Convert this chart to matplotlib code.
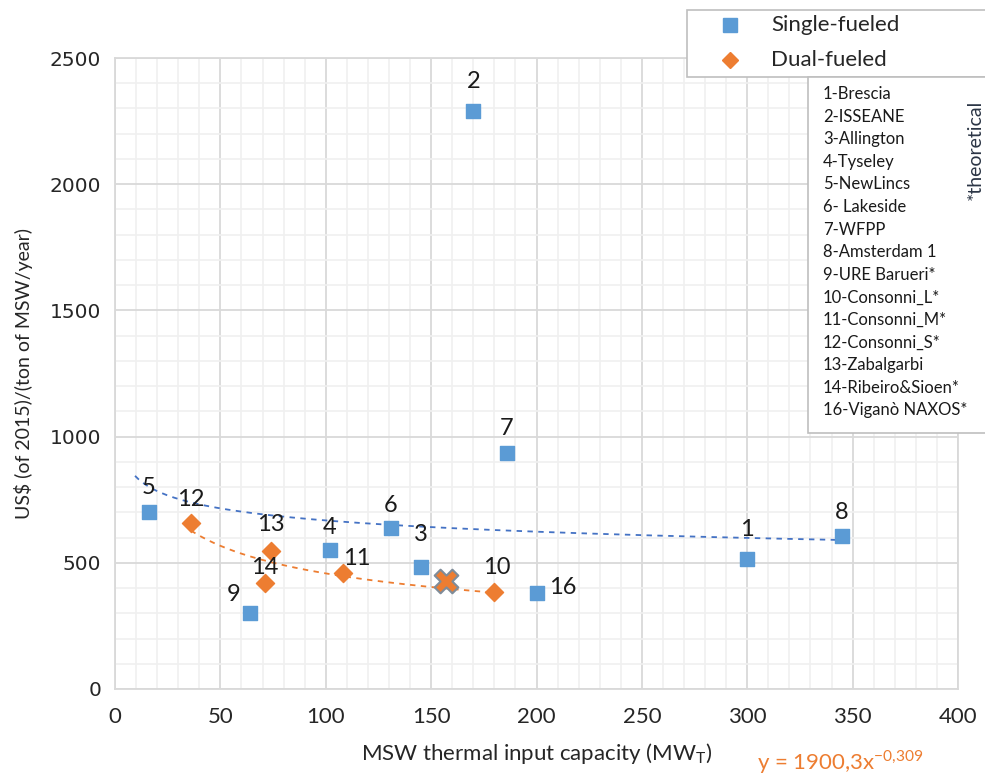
import numpy as np
import matplotlib.pyplot as plt
from matplotlib.patches import Rectangle
from matplotlib.lines import Line2D

BLUE = "#5B9BD5"
ORANGE = "#ED7D31"

# single-fueled plants
single_ids = ["1", "2", "3", "4", "5", "6", "7", "8", "9", "16"]
single_x = [300, 170, 145, 102, 16, 131, 186, 345, 64, 200]
single_y = [515, 2290, 485, 550, 700, 637, 935, 606, 302, 382]

# dual-fueled plants
dual_ids = ["12", "13", "14", "11", "10"]
dual_x = [36, 74, 71, 108, 180]
dual_y = [656, 547, 419, 461, 386]

# highlighted case
case_x = [157]
case_y = [428]

# power-law trendlines  y = a * x^b
single_fit = (1057.0, -0.0997)
single_fit_range = (9.5, 345)
dual_fit = (1900.3, -0.309)
dual_fit_range = (36, 180)

plant_names = ["1-Brescia", "2-ISSEANE", "3-Allington", "4-Tyseley", "5-NewLincs",
               "6- Lakeside", "7-WFPP", "8-Amsterdam 1", "9-URE Barueri*",
               "10-Consonni_L*", "11-Consonni_M*", "12-Consonni_S*", "13-Zabalgarbi",
               "14-Ribeiro&Sioen*", "16-Viganò NAXOS*"]

# label offsets in points (dx, dy)
single_off = {"1": (0, 21), "2": (0, 21), "3": (0, 23), "4": (0, 16), "5": (0, 18),
              "6": (0, 16), "7": (0, 18), "8": (0, 17), "9": (-12, 13), "16": (19, 4)}
dual_off = {"12": (0, 17), "13": (0, 19), "14": (0, 11), "11": (10, 10), "10": (2, 17)}

plt.rcParams["font.family"] = ["Lato", "DejaVu Sans"]
TXT = "#262626"

fig = plt.figure(figsize=(9.85, 7.74), dpi=100)
ax = fig.add_axes([115 / 985, 1 - 689 / 774, 843 / 985, 631 / 774])

ax.set_xlim(0, 400)
ax.set_ylim(0, 2500)
ax.set_xticks(np.arange(0, 401, 50))
ax.set_yticks(np.arange(0, 2501, 500))
ax.set_xticks(np.arange(0, 401, 10), minor=True)
ax.set_yticks(np.arange(0, 2501, 100), minor=True)
ax.grid(True, which="minor", color="#F0F0F0", linewidth=1.2)
ax.grid(True, which="major", color="#D9D9D9", linewidth=1.3)
ax.set_axisbelow(True)
ax.tick_params(which="both", length=0)
ax.tick_params(axis="x", labelsize=16, pad=13, colors=TXT)
ax.tick_params(axis="y", labelsize=14.5, pad=10, colors=TXT)
for lbl in ax.get_yticklabels():
    lbl.set_family("DejaVu Sans")
for sp in ax.spines.values():
    sp.set_color("#D9D9D9")
    sp.set_linewidth(1.3)

# trendlines
xs = np.linspace(*single_fit_range, 200)
ax.plot(xs, single_fit[0] * xs ** single_fit[1], color="#4472C4",
        linestyle=(0, (3, 3)), linewidth=1.3, zorder=2)
xd = np.linspace(*dual_fit_range, 200)
ax.plot(xd, dual_fit[0] * xd ** dual_fit[1], color=ORANGE,
        linestyle=(0, (3, 3)), linewidth=1.3, zorder=2)

ax.scatter(single_x, single_y, marker="s", s=105, color=BLUE, zorder=3)
ax.scatter(dual_x, dual_y, marker="D", s=85, color=ORANGE, zorder=3)
ax.scatter(case_x, case_y, marker="X", s=290, color=ORANGE,
           edgecolors="#7F8C99", linewidths=1.5, zorder=4)

for lab, x, y in zip(single_ids, single_x, single_y):
    ax.annotate(lab, (x, y), xytext=single_off[lab], textcoords="offset points",
                ha="center", va="center", fontsize=17, color="#1A1A1A", zorder=5)
for lab, x, y in zip(dual_ids, dual_x, dual_y):
    ax.annotate(lab, (x, y), xytext=dual_off[lab], textcoords="offset points",
                ha="center", va="center", fontsize=17, color="#1A1A1A", zorder=5)

ax.set_xlabel("MSW thermal input capacity (MW$_\\mathregular{T}$)", fontsize=16,
              color=TXT, labelpad=10)
ax.set_ylabel("US$ (of 2015)/(ton of MSW/year)", fontsize=14, color=TXT,
              labelpad=12)
fig.text(757 / 985, 1 - 762 / 774,
         "y = 1900,3x$^{\\mathregular{-0{,}309}}$", color=ORANGE, fontsize=16,
         va="center", ha="left")

# legend box (runs off the right edge)
def fx(px):
    return px / 985

def fy(py):
    return 1 - py / 774

fig.add_artist(Rectangle((fx(687), fy(77)), fx(320), 67 / 774, transform=fig.transFigure,
                         facecolor="white", edgecolor="#BFBFBF", linewidth=1.2, zorder=10))
fig.add_artist(Line2D([fx(730)], [fy(25)], marker="s", markersize=10, color=BLUE,
                      linestyle="none", transform=fig.transFigure, zorder=11))
fig.add_artist(Line2D([fx(730)], [fy(60)], marker="D", markersize=8, color=ORANGE,
                      linestyle="none", transform=fig.transFigure, zorder=11))
fig.text(fx(771), fy(25), "Single-fueled", fontsize=16, va="center", color=TXT, zorder=11)
fig.text(fx(771), fy(60), "Dual-fueled", fontsize=16, va="center", color=TXT, zorder=11)

# plant list box
fig.add_artist(Rectangle((fx(808), fy(433)), fx(200), 356 / 774, transform=fig.transFigure,
                         facecolor="white", edgecolor="#BFBFBF", linewidth=1.2, zorder=10))
for i, name in enumerate(plant_names):
    fig.text(fx(823), fy(94 + i * 22.6), name, fontsize=12, va="center",
             color="#1A1A1A", zorder=11)
fig.text(fx(975), fy(150), "*theoretical", rotation=90, fontsize=14, va="center",
         ha="center", color="#2B3545", zorder=11)

fig.savefig("out.png", dpi=100)
